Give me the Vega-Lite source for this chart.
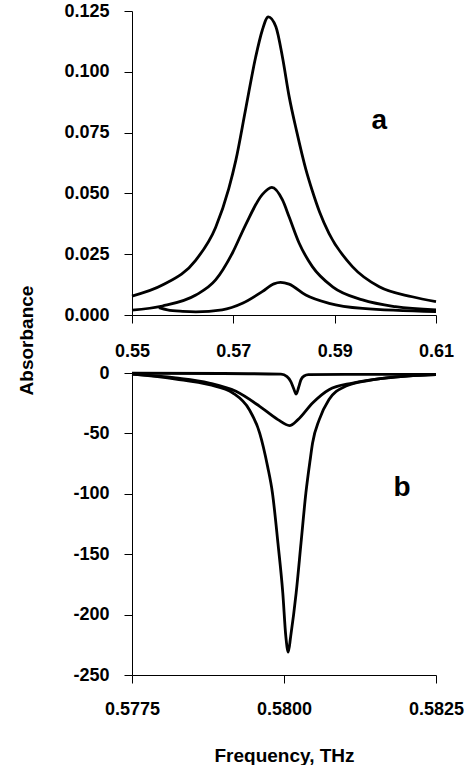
{
  "$schema": "https://vega.github.io/schema/vega-lite/v6.json",
  "padding": {"left": 17, "top": 2, "right": 0, "bottom": 0},
  "bounds": "flush",
  "spacing": 58,
  "config": {
    "view": {"stroke": null},
    "font": "Liberation Sans",
    "axis": {
      "grid": false,
      "domainColor": "#000",
      "domainWidth": 1,
      "tickColor": "#000",
      "tickWidth": 1,
      "tickSize": 8,
      "labelFont": "Liberation Sans",
      "labelFontSize": 18,
      "labelFontWeight": "bold",
      "labelColor": "#000",
      "labelFlush": false,
      "labelOverlap": false,
      "labelBound": false,
      "titleFont": "Liberation Sans",
      "titleFontSize": 19,
      "titleFontWeight": "bold",
      "titleColor": "#000"
    }
  },
  "datasets": {
    "top": [
      {"f": 0.5500, "v": 0.0078, "s": "A"},
      {"f": 0.5560, "v": 0.0123, "s": "A"},
      {"f": 0.5626, "v": 0.0226, "s": "A"},
      {"f": 0.5665, "v": 0.0360, "s": "A"},
      {"f": 0.5691, "v": 0.0520, "s": "A"},
      {"f": 0.5705, "v": 0.0637, "s": "A"},
      {"f": 0.5724, "v": 0.0843, "s": "A"},
      {"f": 0.5744, "v": 0.1060, "s": "A"},
      {"f": 0.5757, "v": 0.1170, "s": "A"},
      {"f": 0.5769, "v": 0.1226, "s": "A"},
      {"f": 0.5784, "v": 0.1185, "s": "A"},
      {"f": 0.5797, "v": 0.1060, "s": "A"},
      {"f": 0.5810, "v": 0.0900, "s": "A"},
      {"f": 0.5825, "v": 0.0755, "s": "A"},
      {"f": 0.5843, "v": 0.0600, "s": "A"},
      {"f": 0.5856, "v": 0.0510, "s": "A"},
      {"f": 0.5870, "v": 0.0425, "s": "A"},
      {"f": 0.5889, "v": 0.0335, "s": "A"},
      {"f": 0.5935, "v": 0.0199, "s": "A"},
      {"f": 0.5988, "v": 0.0116, "s": "A"},
      {"f": 0.6053, "v": 0.0075, "s": "A"},
      {"f": 0.6100, "v": 0.0055, "s": "A"},
      {"f": 0.5500, "v": 0.0020, "s": "B"},
      {"f": 0.5560, "v": 0.0037, "s": "B"},
      {"f": 0.5626, "v": 0.0082, "s": "B"},
      {"f": 0.5665, "v": 0.0144, "s": "B"},
      {"f": 0.5698, "v": 0.0254, "s": "B"},
      {"f": 0.5724, "v": 0.0370, "s": "B"},
      {"f": 0.5757, "v": 0.0495, "s": "B"},
      {"f": 0.5776, "v": 0.0525, "s": "B"},
      {"f": 0.5797, "v": 0.0473, "s": "B"},
      {"f": 0.5810, "v": 0.0404, "s": "B"},
      {"f": 0.5830, "v": 0.0295, "s": "B"},
      {"f": 0.5856, "v": 0.0199, "s": "B"},
      {"f": 0.5896, "v": 0.0116, "s": "B"},
      {"f": 0.5955, "v": 0.0062, "s": "B"},
      {"f": 0.6020, "v": 0.0034, "s": "B"},
      {"f": 0.6100, "v": 0.0021, "s": "B"},
      {"f": 0.5553, "v": 0.0030, "s": "C"},
      {"f": 0.5570, "v": 0.0021, "s": "C"},
      {"f": 0.5600, "v": 0.0015, "s": "C"},
      {"f": 0.5626, "v": 0.0013, "s": "C"},
      {"f": 0.5678, "v": 0.0021, "s": "C"},
      {"f": 0.5718, "v": 0.0048, "s": "C"},
      {"f": 0.5757, "v": 0.0096, "s": "C"},
      {"f": 0.5780, "v": 0.0128, "s": "C"},
      {"f": 0.5793, "v": 0.0134, "s": "C"},
      {"f": 0.5810, "v": 0.0127, "s": "C"},
      {"f": 0.5843, "v": 0.0082, "s": "C"},
      {"f": 0.5889, "v": 0.0048, "s": "C"},
      {"f": 0.5955, "v": 0.0027, "s": "C"},
      {"f": 0.6100, "v": 0.0014, "s": "C"}
    ],
    "bottom": [
      {"f": 0.57750, "v": -1.0, "s": "A"},
      {"f": 0.57822, "v": -5.0, "s": "A"},
      {"f": 0.57877, "v": -9.7, "s": "A"},
      {"f": 0.57916, "v": -16.6, "s": "A"},
      {"f": 0.57943, "v": -30.4, "s": "A"},
      {"f": 0.57960, "v": -49.7, "s": "A"},
      {"f": 0.57973, "v": -77.3, "s": "A"},
      {"f": 0.57981, "v": -99.3, "s": "A"},
      {"f": 0.57990, "v": -140.7, "s": "A"},
      {"f": 0.57998, "v": -182, "s": "A"},
      {"f": 0.58003, "v": -218, "s": "A"},
      {"f": 0.58007, "v": -231, "s": "A"},
      {"f": 0.58011, "v": -218, "s": "A"},
      {"f": 0.58020, "v": -182, "s": "A"},
      {"f": 0.58028, "v": -140.7, "s": "A"},
      {"f": 0.58036, "v": -99.3, "s": "A"},
      {"f": 0.58043, "v": -72, "s": "A"},
      {"f": 0.58047, "v": -58, "s": "A"},
      {"f": 0.58058, "v": -38.6, "s": "A"},
      {"f": 0.58074, "v": -22, "s": "A"},
      {"f": 0.58101, "v": -11, "s": "A"},
      {"f": 0.58140, "v": -6.1, "s": "A"},
      {"f": 0.58195, "v": -2.8, "s": "A"},
      {"f": 0.58250, "v": -1.4, "s": "A"},
      {"f": 0.57750, "v": -1.0, "s": "B"},
      {"f": 0.57822, "v": -4.1, "s": "B"},
      {"f": 0.57877, "v": -8.3, "s": "B"},
      {"f": 0.57921, "v": -15.2, "s": "B"},
      {"f": 0.57960, "v": -27.6, "s": "B"},
      {"f": 0.57990, "v": -38.6, "s": "B"},
      {"f": 0.58009, "v": -43.5, "s": "B"},
      {"f": 0.58023, "v": -38.6, "s": "B"},
      {"f": 0.58047, "v": -24.8, "s": "B"},
      {"f": 0.58074, "v": -13.8, "s": "B"},
      {"f": 0.58113, "v": -8.3, "s": "B"},
      {"f": 0.58168, "v": -4.1, "s": "B"},
      {"f": 0.58250, "v": -1.4, "s": "B"},
      {"f": 0.57750, "v": -0.2, "s": "C"},
      {"f": 0.57900, "v": -0.4, "s": "C"},
      {"f": 0.57995, "v": -1.0, "s": "C"},
      {"f": 0.58005, "v": -3.0, "s": "C"},
      {"f": 0.58011, "v": -7.0, "s": "C"},
      {"f": 0.58016, "v": -13.0, "s": "C"},
      {"f": 0.58020, "v": -17.5, "s": "C"},
      {"f": 0.58024, "v": -12.0, "s": "C"},
      {"f": 0.58028, "v": -5.5, "s": "C"},
      {"f": 0.58033, "v": -2.5, "s": "C"},
      {"f": 0.58040, "v": -1.4, "s": "C"},
      {"f": 0.58100, "v": -1.2, "s": "C"},
      {"f": 0.58250, "v": -1.2, "s": "C"}
    ]
  },
  "vconcat": [
    {
      "width": 304,
      "height": 304,
      "layer": [
        {
          "data": {"name": "top"},
          "mark": {"type": "line", "color": "#000", "strokeWidth": 2.8, "interpolate": "monotone"},
          "encoding": {
            "x": {"field": "f", "type": "quantitative",
              "scale": {"domain": [0.55, 0.61], "nice": false, "zero": false},
              "axis": {"values": [0.55, 0.57, 0.59, 0.61], "format": ".2f", "labelPadding": 19, "title": null}},
            "y": {"field": "v", "type": "quantitative",
              "scale": {"domain": [0, 0.125], "nice": false},
              "axis": {"values": [0, 0.025, 0.05, 0.075, 0.1, 0.125], "format": ".3f", "labelPadding": 15,
                "title": "Absorbance", "titleAngle": -90, "titleX": -106, "titleY": 329,
                "titleAlign": "center", "titleBaseline": "middle"}},
            "detail": {"field": "s", "type": "nominal"}
          }
        },
        {
          "data": {"values": [{"label": "a"}]},
          "mark": {"type": "text", "font": "Liberation Sans", "fontSize": 28, "fontWeight": "bold", "color": "#000", "align": "center", "baseline": "alphabetic"},
          "encoding": {
            "x": {"datum": 0.5988, "type": "quantitative"},
            "y": {"datum": 0.0765, "type": "quantitative"},
            "text": {"field": "label"}
          }
        }
      ]
    },
    {
      "width": 304,
      "height": 302,
      "layer": [
        {
          "data": {"name": "bottom"},
          "mark": {"type": "line", "color": "#000", "strokeWidth": 2.8, "interpolate": "monotone"},
          "encoding": {
            "x": {"field": "f", "type": "quantitative",
              "scale": {"domain": [0.5775, 0.5825], "nice": false, "zero": false},
              "axis": {"values": [0.5775, 0.58, 0.5825], "format": ".4f", "labelPadding": 17,
                "title": "Frequency, THz", "titlePadding": 28}},
            "y": {"field": "v", "type": "quantitative",
              "scale": {"domain": [-250, 0], "nice": false},
              "axis": {"values": [-250, -200, -150, -100, -50, 0], "format": "d", "labelPadding": 15,
                "labelExpr": "replace(datum.label, '\u2212', '-')", "title": null}},
            "detail": {"field": "s", "type": "nominal"}
          }
        },
        {
          "data": {"values": [{"label": "b"}]},
          "mark": {"type": "text", "font": "Liberation Sans", "fontSize": 28, "fontWeight": "bold", "color": "#000", "align": "center", "baseline": "alphabetic"},
          "encoding": {
            "x": {"datum": 0.58194, "type": "quantitative"},
            "y": {"datum": -102, "type": "quantitative"},
            "text": {"field": "label"}
          }
        }
      ]
    }
  ]
}
